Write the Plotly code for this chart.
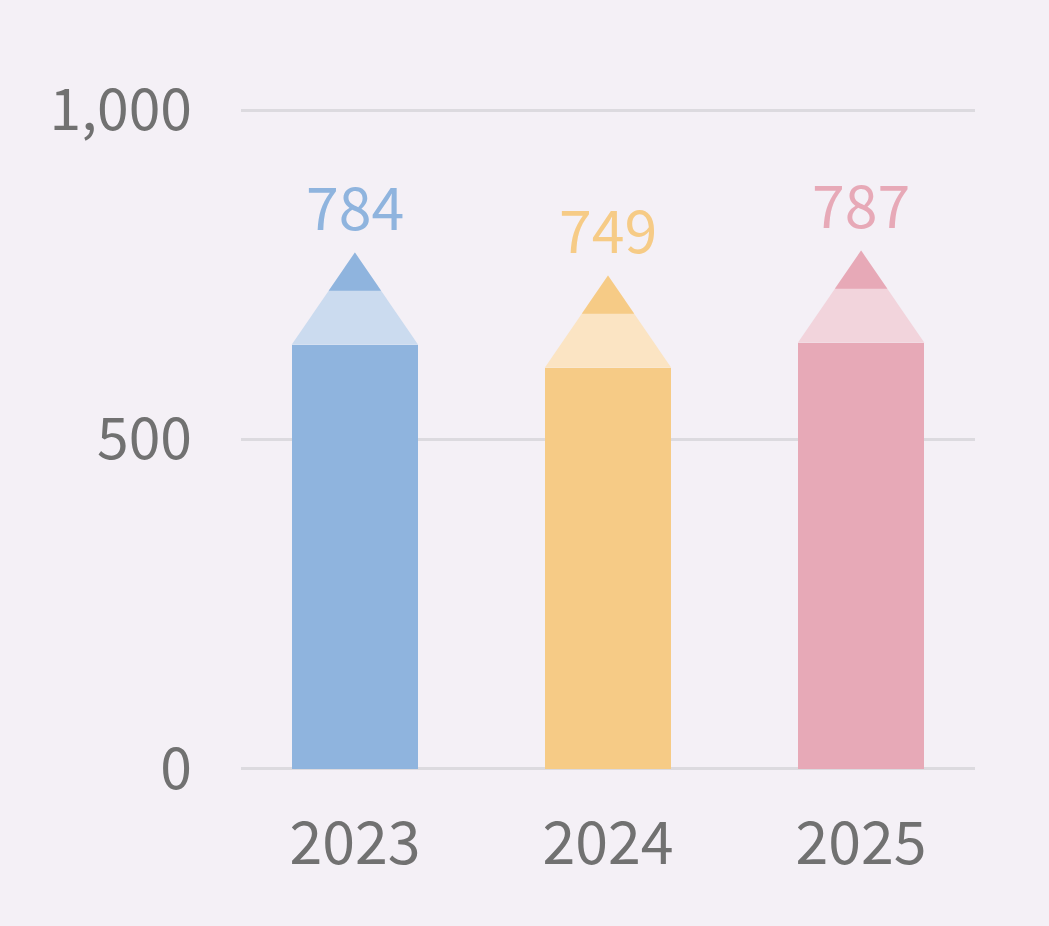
import plotly.graph_objects as go

# data
years = ["2023", "2024", "2025"]
values = [784, 749, 787]
body_colors = ["#8fb4de", "#f6cb86", "#e7a9b7"]
tip_colors = ["#cbdbef", "#fbe4c3", "#f2d4dc"]

# pencil geometry (data units)
TIP_H = 140      # full tip height
LEAD_H = 58      # dark lead part
HALF_W = 0.25    # half bar width in category units

BG = "#f4f0f6"
FONT = "Noto Sans CJK JP"

fig = go.Figure()

xs = list(range(len(years)))
fig.add_trace(go.Bar(
    x=xs, y=[v - TIP_H for v in values], width=2 * HALF_W,
    marker=dict(color=body_colors, line=dict(width=0)),
    hoverinfo="skip", showlegend=False,
))

for i, v in enumerate(values):
    base = v - TIP_H
    # light wood part
    fig.add_trace(go.Scatter(
        x=[i - HALF_W, i + HALF_W, i, i - HALF_W],
        y=[base, base, v, base],
        fill="toself", fillcolor=tip_colors[i], mode="lines",
        line=dict(width=0), hoverinfo="skip", showlegend=False,
    ))
    # lead
    lw = HALF_W * LEAD_H / TIP_H
    fig.add_trace(go.Scatter(
        x=[i - lw, i + lw, i, i - lw],
        y=[v - LEAD_H, v - LEAD_H, v, v - LEAD_H],
        fill="toself", fillcolor=body_colors[i], mode="lines",
        line=dict(width=0), hoverinfo="skip", showlegend=False,
    ))
    fig.add_annotation(
        x=i, y=v, text=str(v), showarrow=False, yanchor="bottom", yshift=4,
        font=dict(size=59, color=body_colors[i], family=FONT),
    )

fig.update_layout(
    width=1049, height=926,
    margin=dict(l=241, r=74, t=109, b=156),
    paper_bgcolor=BG, plot_bgcolor=BG,
    font=dict(family=FONT, color="#717171", size=57),
    bargap=0,
    xaxis=dict(
        range=[-0.45, 2.45], tickvals=xs, ticktext=years,
        showgrid=False, zeroline=False, showline=False,
        ticks="", ticklabelstandoff=34, tickfont=dict(size=59), fixedrange=True,
    ),
    yaxis=dict(
        range=[-2, 1002], tickvals=[0, 500, 1000], ticktext=["0", "500", "1,000"],
        showgrid=True, gridcolor="#dcdadf", gridwidth=2.5,
        zeroline=False, ticks="", ticklabelstandoff=48, fixedrange=True,
    ),
)

fig.write_html(
    "out.html",
    config={"displayModeBar": False},
    post_script=f"document.body.style.margin='0';document.body.style.background='{BG}';",
)
